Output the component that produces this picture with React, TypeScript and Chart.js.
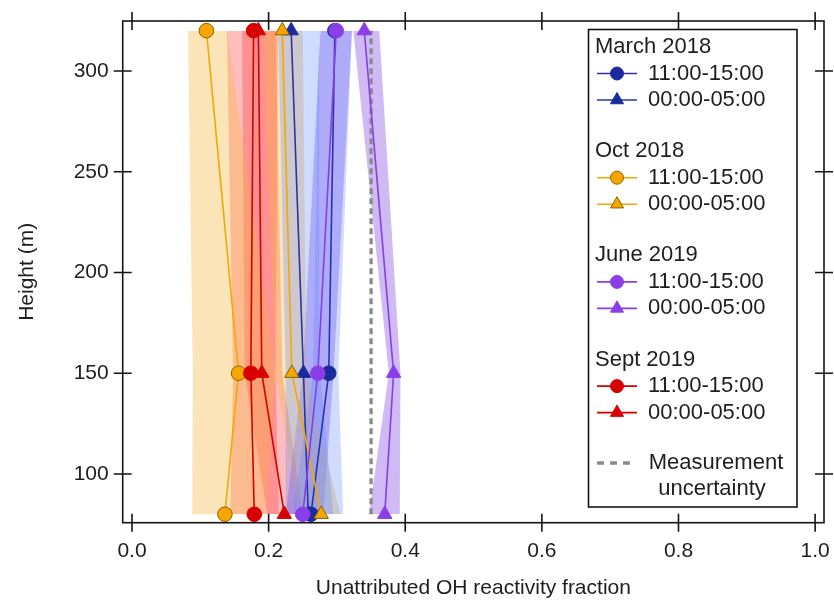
import React, { useEffect, useRef } from 'react';
import { Chart, registerables } from 'chart.js';

Chart.register(...registerables);

// ---------------- data ----------------
const heights = [80, 150, 320];
const xTicks = [0, 0.2, 0.4, 0.6, 0.8, 1.0];
const yTicks = [100, 150, 200, 250, 300];

const mar2018Day = [0.262, 0.288, 0.297];
const mar2018Night = [0.258, 0.251, 0.233];
const oct2018Day = [0.136, 0.156, 0.109];
const oct2018Night = [0.277, 0.234, 0.22];
const jun2019Day = [0.25, 0.272, 0.299];
const jun2019Night = [0.37, 0.383, 0.34];
const sep2019Day = [0.179, 0.174, 0.178];
const sep2019Night = [0.223, 0.19, 0.185];

// uncertainty bands (lower / upper)
const mar2018DayLo = [0.235, 0.265, 0.274];
const mar2018DayHi = [0.309, 0.302, 0.322];
const mar2018NightLo = [0.225, 0.225, 0.214];
const mar2018NightHi = [0.295, 0.275, 0.274];
const oct2018DayLo = [0.088, 0.089, 0.082];
const oct2018DayHi = [0.195, 0.21, 0.139];
const oct2018NightLo = [0.245, 0.21, 0.193];
const oct2018NightHi = [0.305, 0.255, 0.25];
const jun2019DayLo = [0.225, 0.25, 0.276];
const jun2019DayHi = [0.28, 0.295, 0.322];
const jun2019NightLo = [0.347, 0.376, 0.324];
const jun2019NightHi = [0.392, 0.393, 0.362];
const sep2019DayLo = [0.144, 0.148, 0.139];
const sep2019DayHi = [0.215, 0.21, 0.214];
const sep2019NightLo = [0.198, 0.165, 0.161];
const sep2019NightHi = [0.25, 0.22, 0.21];

const measurementUncertainty = [0.35, 0.35];
const measurementHeights = [80, 320];

const campaigns = ['March 2018', 'Oct 2018', 'June 2019', 'Sept 2019'];
const periods = ['11:00-15:00', '00:00-05:00'];
const measurementLabel = ['Measurement', 'uncertainty'];

// ---------------- styles ----------------
const FONT = "'Liberation Sans', Arial, Helvetica, sans-serif";
const TEXT = '#1e1e1e';

const palette = {
  blue: { line: '#2636a6', point: '#1b2a9c', edge: '#1b2a9c', band: 'rgba(95,135,255,0.30)' },
  orange: { line: '#f4a800', point: '#f7a600', edge: '#8a6200', band: 'rgba(248,180,60,0.36)' },
  purple: { line: '#8a3ee6', point: '#8b3ee8', edge: '#8b3ee8', band: 'rgba(140,90,228,0.42)' },
  red: { line: '#d40000', point: '#d80000', edge: '#d80000', band: 'rgba(255,55,55,0.33)' },
};

type Series = {
  vals: number[];
  lo: number[];
  hi: number[];
  color: keyof typeof palette;
  shape: 'circle' | 'triangle';
  order: number;
};

const series: Series[] = [
  { vals: mar2018Day, lo: mar2018DayLo, hi: mar2018DayHi, color: 'blue', shape: 'circle', order: 8 },
  { vals: mar2018Night, lo: mar2018NightLo, hi: mar2018NightHi, color: 'blue', shape: 'triangle', order: 9 },
  { vals: oct2018Day, lo: oct2018DayLo, hi: oct2018DayHi, color: 'orange', shape: 'circle', order: 6 },
  { vals: oct2018Night, lo: oct2018NightLo, hi: oct2018NightHi, color: 'orange', shape: 'triangle', order: 7 },
  { vals: jun2019Day, lo: jun2019DayLo, hi: jun2019DayHi, color: 'purple', shape: 'circle', order: 4 },
  { vals: jun2019Night, lo: jun2019NightLo, hi: jun2019NightHi, color: 'purple', shape: 'triangle', order: 5 },
  { vals: sep2019Day, lo: sep2019DayLo, hi: sep2019DayHi, color: 'red', shape: 'circle', order: 2 },
  { vals: sep2019Night, lo: sep2019NightLo, hi: sep2019NightHi, color: 'red', shape: 'triangle', order: 3 },
];

const toPts = (xs: number[], ys: number[]) => xs.map((v, i) => ({ x: v, y: ys[i] }));

function buildDatasets() {
  const ds: any[] = [];
  series.forEach((s, k) => {
    const p = palette[s.color];
    const loIdx = ds.length;
    ds.push({
      data: toPts(s.lo, heights),
      borderWidth: 0,
      pointRadius: 0,
      fill: false,
      order: 100 + k * 2,
      clip: false,
    });
    ds.push({
      data: toPts(s.hi, heights),
      borderWidth: 0,
      pointRadius: 0,
      backgroundColor: p.band,
      fill: { target: loIdx },
      order: 101 + k * 2,
      clip: false,
    });
  });
  ds.push({
    data: toPts(measurementUncertainty, measurementHeights),
    borderColor: '#8a8a8a',
    borderWidth: 3.3,
    borderDash: [6, 4],
    pointRadius: 0,
    fill: false,
    order: 20,
    clip: false,
  });
  series.forEach((s) => {
    const p = palette[s.color];
    ds.push({
      data: toPts(s.vals, heights),
      borderColor: p.line,
      borderWidth: 1.6,
      pointStyle: s.shape,
      pointRadius: s.shape === 'circle' ? 7.3 : 8.3,
      pointBackgroundColor: p.point,
      pointBorderColor: p.edge,
      pointBorderWidth: 1,
      fill: false,
      order: s.order,
      clip: false,
    });
  });
  return ds;
}

const TICK = 9;

const framePlugin = {
  id: 'frameTicks',
  afterDatasetsDraw(chart: any) {
    const { ctx, chartArea: a, scales } = chart;
    ctx.save();
    ctx.strokeStyle = '#141414';
    ctx.lineWidth = 1.6;
    ctx.strokeRect(a.left, a.top, a.right - a.left, a.bottom - a.top);
    ctx.beginPath();
    xTicks.forEach((v) => {
      const px = scales.x.getPixelForValue(v);
      ctx.moveTo(px, a.bottom - TICK);
      ctx.lineTo(px, a.bottom + TICK);
      ctx.moveTo(px, a.top - TICK);
      ctx.lineTo(px, a.top + TICK);
    });
    yTicks.forEach((v) => {
      const py = scales.y.getPixelForValue(v);
      ctx.moveTo(a.left - TICK, py);
      ctx.lineTo(a.left + TICK, py);
      ctx.moveTo(a.right - TICK, py);
      ctx.lineTo(a.right + TICK, py);
    });
    ctx.stroke();
    ctx.restore();
  },
};

function drawMarker(ctx: CanvasRenderingContext2D, shape: string, x: number, y: number, r: number) {
  ctx.beginPath();
  if (shape === 'circle') {
    ctx.arc(x, y, r, 0, Math.PI * 2);
  } else {
    ctx.moveTo(x, y - r);
    ctx.lineTo(x + Math.sin((2 * Math.PI) / 3) * r, y + 0.5 * r);
    ctx.lineTo(x - Math.sin((2 * Math.PI) / 3) * r, y + 0.5 * r);
    ctx.closePath();
  }
  ctx.fill();
  ctx.stroke();
}

const legendPlugin = {
  id: 'groupLegend',
  afterDraw(chart: any) {
    const { ctx } = chart;
    const box = { left: 588.5, top: 29.5, right: 797, bottom: 507 };
    ctx.save();
    ctx.fillStyle = '#ffffff';
    ctx.fillRect(box.left, box.top, box.right - box.left, box.bottom - box.top);
    ctx.strokeStyle = '#141414';
    ctx.lineWidth = 1.6;
    ctx.strokeRect(box.left, box.top, box.right - box.left, box.bottom - box.top);

    ctx.font = `22px ${FONT}`;
    ctx.textBaseline = 'middle';
    const colors: (keyof typeof palette)[] = ['blue', 'orange', 'purple', 'red'];
    const groupGap = 104.2;
    campaigns.forEach((name, g) => {
      const y0 = 47 + g * groupGap;
      ctx.fillStyle = TEXT;
      ctx.textAlign = 'left';
      ctx.fillText(name, 595, y0);
      periods.forEach((per, j) => {
        const y = y0 + 26.5 + j * 26.5;
        const p = palette[colors[g]];
        ctx.strokeStyle = p.line;
        ctx.lineWidth = 1.6;
        ctx.beginPath();
        ctx.moveTo(597, y);
        ctx.lineTo(637, y);
        ctx.stroke();
        ctx.fillStyle = p.point;
        ctx.strokeStyle = p.edge;
        ctx.lineWidth = 1;
        drawMarker(ctx, j === 0 ? 'circle' : 'triangle', 617, y, j === 0 ? 6.5 : 7.5);
        ctx.fillStyle = TEXT;
        ctx.fillText(per, 648, y);
      });
    });
    // measurement uncertainty entry
    ctx.strokeStyle = '#8a8a8a';
    ctx.lineWidth = 3.3;
    ctx.setLineDash([7, 6]);
    ctx.beginPath();
    ctx.moveTo(597, 463);
    ctx.lineTo(634, 463);
    ctx.stroke();
    ctx.setLineDash([]);
    ctx.fillStyle = TEXT;
    ctx.textAlign = 'center';
    ctx.fillText(measurementLabel[0], 716, 463);
    ctx.fillText(measurementLabel[1], 712, 489);
    ctx.restore();
  },
};

export default function App() {
  const ref = useRef<HTMLCanvasElement | null>(null);
  useEffect(() => {
    if (!ref.current) return;
    const tickFont = { family: FONT, size: 21 };
    const chart = new Chart(ref.current, {
      type: 'line',
      data: { datasets: buildDatasets() },
      plugins: [framePlugin, legendPlugin],
      options: {
        indexAxis: 'y',
        animation: false,
        responsive: false,
        maintainAspectRatio: false,
        layout: { padding: { left: 0, right: 10, top: 21, bottom: 0 } },
        elements: { line: { tension: 0 } },
        plugins: {
          legend: { display: false },
          tooltip: { enabled: false },
          filler: { drawTime: 'beforeDatasetsDraw' },
        },
        scales: {
          x: {
            type: 'linear',
            position: 'bottom',
            min: -0.0136,
            max: 1.013,
            grid: { display: false, drawTicks: false },
            border: { display: false },
            afterBuildTicks: (s: any) => {
              s.ticks = xTicks.map((v) => ({ value: v }));
            },
            afterFit: (s: any) => {
              s.height = 82.3;
              s.paddingLeft = 0;
              s.paddingRight = 0;
            },
            ticks: {
              font: tickFont,
              color: TEXT,
              padding: 16,
              maxRotation: 0,
              autoSkip: false,
              callback: (v: any) => Number(v).toFixed(1),
            },
            title: {
              display: true,
              text: 'Unattributed OH reactivity fraction',
              font: tickFont,
              color: TEXT,
              padding: { top: 0, bottom: 4 },
            },
          },
          y: {
            type: 'linear',
            position: 'left',
            min: 75.8,
            max: 324.8,
            grid: { display: false, drawTicks: false },
            border: { display: false },
            afterBuildTicks: (s: any) => {
              s.ticks = yTicks.map((v) => ({ value: v }));
            },
            afterFit: (s: any) => {
              s.width = 122.7;
              s.paddingTop = 0;
              s.paddingBottom = 0;
            },
            ticks: {
              font: tickFont,
              color: TEXT,
              padding: 14,
              autoSkip: false,
              callback: (v: any) => String(v),
            },
            title: {
              display: true,
              text: 'Height (m)',
              font: tickFont,
              color: TEXT,
              padding: { top: 15, bottom: 0 },
            },
          },
        },
      } as any,
    });
    return () => chart.destroy();
  }, []);
  return (
    <div style={{ position: 'fixed', left: 0, top: 0, width: 834, height: 605, background: '#fff' }}>
      <canvas ref={ref} width={834} height={605} style={{ width: 834, height: 605, display: 'block' }} />
    </div>
  );
}
